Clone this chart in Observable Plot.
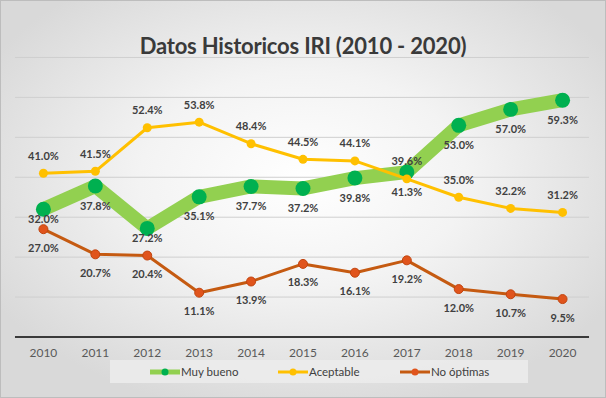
<!DOCTYPE html>
<html>
<head>
<meta charset="utf-8">
<script src="https://cdn.jsdelivr.net/npm/d3@7"></script>
<script src="https://cdn.jsdelivr.net/npm/@observablehq/plot@0.6"></script>
<style>
  html, body { margin: 0; padding: 0; }
  #chart {
    position: relative; width: 604px; height: 396px; overflow: hidden;
    border: 1px solid #bdbdbd;
    background: radial-gradient(ellipse 60% 60% at 50% 45%, #ffffff 0%, #f3f3f3 45%, #d9d9d9 100%);
    font-family: Lato, "Open Sans", sans-serif;
  }
  #title {
    position: absolute; left: 0; top: 28px; width: 100%; height: 34px; line-height: 34px;
    text-align: center; font-size: 22px; font-weight: 700; color: #3a3a3a; letter-spacing: -0.2px;
  }
  #plot { position: absolute; left: -1px; top: 39px; }
  #legend {
    position: absolute; left: 109px; top: 359px; width: 418px; height: 23px;
    background: rgba(236,236,236,0.85);
    display: flex; align-items: center; font-size: 11.5px; color: #404040;
  }
  .item { position: absolute; display: flex; align-items: center; }
  .item svg { margin-right: 1px; }
</style>
</head>
<body>
<div id="chart">
  <div id="title">Datos Historicos IRI (2010 - 2020)</div>
  <div id="plot"></div>
  <div id="legend"></div>
</div>
<script>
const years = [2010, 2011, 2012, 2013, 2014, 2015, 2016, 2017, 2018, 2019, 2020];
const muyBueno = [32.0, 37.8, 27.2, 35.1, 37.7, 37.2, 39.8, 41.3, 53.0, 57.0, 59.3];
const aceptable = [41.0, 41.5, 52.4, 53.8, 48.4, 44.5, 44.1, 39.6, 35.0, 32.2, 31.2];
const noOptimas = [27.0, 20.7, 20.4, 11.1, 13.9, 18.3, 16.1, 19.2, 12.0, 10.7, 9.5];
const seriesNames = ["Muy bueno", "Aceptable", "No óptimas"];
const gridValues = [10, 20, 30, 40, 50, 60, 70];
const closeLabelYears = [2010, 2012];

const colors = {
  "Muy bueno": {line: "#92D050", dot: "#00B050"},
  "Aceptable": {line: "#FFC000", dot: "#FFC000"},
  "No óptimas": {line: "#C55A11", dot: "#E0541C"}
};

const mk = (vals, s) => years.map((yr, i) => ({year: yr, value: vals[i], series: s}));
const green = mk(muyBueno, seriesNames[0]);
const yellow = mk(aceptable, seriesNames[1]);
const orange = mk(noOptimas, seriesNames[2]);
const fmt = d => d.value.toFixed(1) + "%";
const labelStyle = {x: "year", y: "value", text: fmt, fontSize: 11, fontWeight: "bold", fill: "#404040", fontFamily: "Lato, sans-serif"};

const plot = Plot.plot({
  width: 606, height: 321,
  marginLeft: 15, marginRight: 16, marginTop: 17, marginBottom: 24,
  style: {background: "transparent", fontFamily: "Lato, sans-serif"},
  x: {type: "point", domain: years, padding: 0.5},
  y: {domain: [0, 70], axis: null},
  marks: [
    Plot.ruleY(gridValues, {stroke: "#cfcfcf", strokeWidth: 1}),
    Plot.ruleY([0], {stroke: "#3a3a3a", strokeWidth: 2}),
    Plot.axisX({tickSize: 0, tickPadding: 11, fontSize: 12, fill: "#595959", label: null, tickFormat: d => String(d)}),
    Plot.line(green, {x: "year", y: "value", stroke: colors["Muy bueno"].line, strokeWidth: 14, strokeLinejoin: "round"}),
    Plot.dot(green, {x: "year", y: "value", r: 7.5, fill: colors["Muy bueno"].dot}),
    Plot.line(yellow, {x: "year", y: "value", stroke: colors["Aceptable"].line, strokeWidth: 3}),
    Plot.dot(yellow, {x: "year", y: "value", r: 4.5, fill: colors["Aceptable"].dot}),
    Plot.line(orange, {x: "year", y: "value", stroke: colors["No óptimas"].line, strokeWidth: 3}),
    Plot.dot(orange, {x: "year", y: "value", r: 4.5, fill: colors["No óptimas"].dot, stroke: "#C0440F", strokeWidth: 1}),
    Plot.text(green.filter(d => !closeLabelYears.includes(d.year)), {...labelStyle, dy: 20}),
    Plot.text(green.filter(d => closeLabelYears.includes(d.year)), {...labelStyle, dy: 10}),
    Plot.text(yellow, {...labelStyle, dy: -17}),
    Plot.text(orange, {...labelStyle, dy: 19})
  ]
});
document.getElementById("plot").appendChild(plot);

// Legend
const legend = document.getElementById("legend");
const legendX = [40, 168, 290];
seriesNames.forEach((name, i) => {
  const c = colors[name];
  const item = document.createElement("div");
  item.className = "item";
  item.style.left = legendX[i] + "px";
  const thick = i === 0 ? 5 : 3;
  item.innerHTML = `<svg width="30" height="12"><line x1="0" x2="30" y1="6" y2="6" stroke="${c.line}" stroke-width="${thick}"/><circle cx="15" cy="6" r="3.5" fill="${c.dot}"/></svg><span>${name}</span>`;
  legend.appendChild(item);
});
</script>
</body>
</html>
